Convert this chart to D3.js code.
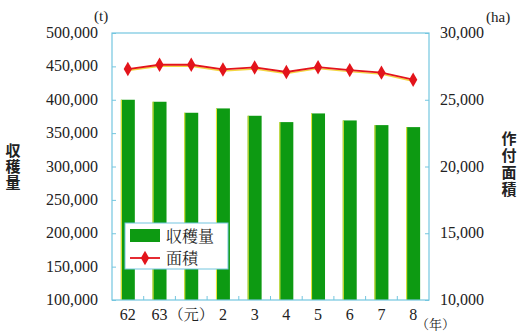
<!DOCTYPE html>
<html>
<head>
<meta charset="utf-8">
<script src="https://cdn.jsdelivr.net/npm/d3@7"></script>
<style>
  html, body { margin: 0; padding: 0; background: #fff; }
  svg { display: block; }
</style>
</head>
<body>
<svg id="chart" width="522" height="333"></svg>
<script>
// Years (昭和62・63, 平成元〜8)
const categories = ["62", "63", "（元）", "2", "3", "4", "5", "6", "7", "8"];
// 収穫量 (t)
const harvest = [400000, 397000, 380500, 387000, 376000, 366500, 379500, 369000, 362000, 359000];
// 作付面積 (ha)
const area = [27300, 27620, 27620, 27270, 27420, 27080, 27440, 27220, 27030, 26500];
const leftTicks = [100000, 150000, 200000, 250000, 300000, 350000, 400000, 450000, 500000];
const rightTicks = [10000, 15000, 20000, 25000, 30000];

const svg = d3.select("#chart");
const m = { left: 112, right: 429, top: 33, bottom: 300 };
const frameColor = "#74c6df";
const fmt = d3.format(",");

const x = d3.scaleBand().domain(categories).range([m.left, m.right]).paddingInner(0.56).paddingOuter(0.28);
const yL = d3.scaleLinear().domain([100000, 500000]).range([m.bottom, m.top]);
const yR = d3.scaleLinear().domain([10000, 30000]).range([m.bottom, m.top]);

const numText = (sel, size = 16) => sel.attr("font-family", "Liberation Serif").attr("font-size", size).attr("fill", "#222");
const minchoText = (sel, size) => sel.attr("font-family", "Noto Serif CJK JP").attr("font-size", size).attr("fill", "#222");
const gothicText = (sel, size) => sel.attr("font-family", "Noto Sans CJK JP").attr("font-size", size).attr("fill", "#222");

// bars
const bars = svg.append("g");
bars.selectAll("rect.bar").data(categories).join("rect")
  .attr("class", "bar")
  .attr("x", d => x(d))
  .attr("y", (d, i) => yL(harvest[i]))
  .attr("width", x.bandwidth())
  .attr("height", (d, i) => m.bottom - yL(harvest[i]))
  .attr("fill", "#0d9a12");
bars.selectAll("line.edge").data(categories).join("line")
  .attr("class", "edge")
  .attr("x1", d => x(d) + 0.5).attr("x2", d => x(d) + 0.5)
  .attr("y1", (d, i) => yL(harvest[i])).attr("y2", m.bottom)
  .attr("stroke", "#f2ea3a").attr("stroke-width", 1);

// frame
svg.append("rect")
  .attr("x", m.left).attr("y", m.top)
  .attr("width", m.right - m.left).attr("height", m.bottom - m.top)
  .attr("fill", "none").attr("stroke", frameColor).attr("stroke-width", 1.2);

// axes
const axL = svg.append("g").attr("transform", `translate(${m.left},0)`)
  .call(d3.axisRight(yL).tickValues(leftTicks).tickSize(4).tickFormat(""));
const axR = svg.append("g").attr("transform", `translate(${m.right},0)`)
  .call(d3.axisLeft(yR).tickValues(rightTicks).tickSize(4).tickFormat(""));
[axL, axR].forEach(a => {
  a.select(".domain").remove();
  a.selectAll("line").attr("stroke", frameColor);
});
// small ticks between categories on the bottom edge
const step = x.step();
svg.append("g").selectAll("line").data(categories.slice(1)).join("line")
  .attr("x1", d => x(d) - step * x.paddingInner() / 2)
  .attr("x2", d => x(d) - step * x.paddingInner() / 2)
  .attr("y1", m.bottom).attr("y2", m.bottom - 4)
  .attr("stroke", frameColor);

// tick labels
svg.append("g").selectAll("text").data(leftTicks).join("text")
  .call(numText).attr("x", 98).attr("y", d => yL(d) + 5)
  .attr("text-anchor", "end").text(d => fmt(d));
svg.append("g").selectAll("text").data(rightTicks).join("text")
  .call(numText).attr("x", 440).attr("y", d => yR(d) + 5)
  .text(d => fmt(d));
const catLabels = svg.append("g").selectAll("text").data(categories).join("text")
  .attr("x", d => x(d) + x.bandwidth() / 2)
  .attr("y", 320)
  .attr("text-anchor", "middle")
  .text(d => d);
catLabels.filter(d => d.length <= 2).call(numText);
catLabels.filter(d => d.length > 2).call(minchoText, 15);

// units
svg.append("text").call(numText, 15).attr("x", 94).attr("y", 21).text("(t)");
svg.append("text").call(numText, 15).attr("x", 486).attr("y", 22).text("(ha)");
svg.append("text").call(minchoText, 13).attr("x", 416).attr("y", 329).text("（年）");

// axis titles, set vertically
const vTitle = (str, tx, ty, spacing, weight) => {
  svg.append("text").call(gothicText, 15)
    .attr("font-weight", weight)
    .attr("letter-spacing", spacing)
    .style("writing-mode", "vertical-rl")
    .style("text-orientation", "upright")
    .attr("x", tx).attr("y", ty)
    .text(str);
};
vTitle("収穫量", 13, 143, 1, "bold");
vTitle("作付面積", 509, 131, 2, 600);

// area line with a soft yellow shadow
const line = d3.line()
  .x((d, i) => x(categories[i]) + x.bandwidth() / 2)
  .y(d => yR(d));
svg.append("path").datum(area).attr("d", line)
  .attr("transform", "translate(0,1.5)")
  .attr("fill", "none").attr("stroke", "#f3d640").attr("stroke-width", 1.4);
svg.append("path").datum(area).attr("d", line)
  .attr("fill", "none").attr("stroke", "#e3141b").attr("stroke-width", 1.8);
const diamond = d3.symbol().type(d3.symbolDiamond).size(60);
svg.append("g").selectAll("path").data(area).join("path")
  .attr("transform", (d, i) => `translate(${x(categories[i]) + x.bandwidth() / 2},${yR(d)})`)
  .attr("d", diamond).attr("fill", "#e3141b");

// legend
const lg = svg.append("g");
lg.append("rect").attr("x", 125).attr("y", 223).attr("width", 103).attr("height", 46)
  .attr("fill", "#fff").attr("stroke", frameColor).attr("stroke-width", 1);
lg.append("rect").attr("x", 130).attr("y", 229).attr("width", 30).attr("height", 13).attr("fill", "#0d9a12");
lg.append("text").call(minchoText, 16).attr("x", 166).attr("y", 242).text("収穫量");
lg.append("line").attr("x1", 130).attr("x2", 160).attr("y1", 258).attr("y2", 258)
  .attr("stroke", "#e3141b").attr("stroke-width", 1.8);
lg.append("path").attr("transform", "translate(145,258)").attr("d", diamond).attr("fill", "#e3141b");
lg.append("text").call(minchoText, 16).attr("x", 166).attr("y", 264).text("面積");
</script>
</body>
</html>
